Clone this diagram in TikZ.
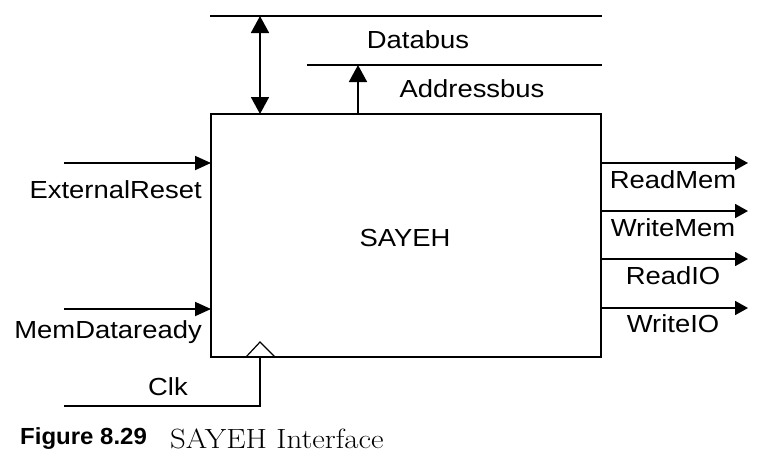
\documentclass[tikz,border=0pt]{standalone}
\usepackage{fontspec}
\newfontfamily\arial[FakeStretch=1.11]{Liberation Sans}
\newfontfamily\arialb[FakeStretch=1.03]{Liberation Sans}
\newfontfamily\lmw[FakeStretch=1.11]{Latin Modern Roman}
\usetikzlibrary{arrows.meta}
\begin{document}
\begin{tikzpicture}[x=1pt,y=-1pt,
  wire/.style={line width=1.8pt},
  vtip/.tip={Triangle[length=17pt,width=18pt]},
  itip/.tip={Triangle[length=16pt,width=14pt]},
  otip/.tip={Triangle[length=13pt,width=14pt]},
  lbl/.style={font=\arial\fontsize{24.7}{28}\selectfont,inner sep=0pt},
]
\useasboundingbox (0,0) rectangle (762,464);
\node[draw,line width=1.8pt,minimum width=390pt,minimum height=243pt,inner sep=0pt] (sayeh) at (406,235.5) {};
\node[lbl] (t) at (405,238) {SAYEH};
% buses
\coordinate (db1) at (210,16); \coordinate (db2) at (602,16);
\coordinate (ab1) at (307,65); \coordinate (ab2) at (602,65);
\draw[wire] (db1) -- (db2);
\draw[wire] (ab1) -- (ab2);
\coordinate (dbt) at (260,16); \coordinate (dbb) at (260,114);
\draw[wire,vtip-vtip] (dbt) -- (dbb);
\coordinate (abb) at (358,114); \coordinate (abt) at (358,65);
\draw[wire,-vtip] (abb) -- (abt);
\node[lbl] (dbl) at (418,40) {Databus};
\node[lbl] (abl) at (472,89) {Addressbus};
% inputs
\coordinate (er) at (64,163); \coordinate (ere) at (211,163);
\draw[wire,-itip] (er) -- (ere);
\node[lbl,anchor=east] (erl) at (202,190) {ExternalReset};
\coordinate (md) at (64,309); \coordinate (mde) at (211,309);
\draw[wire,-itip] (md) -- (mde);
\node[lbl,anchor=east] (mdl) at (202,332) {MemDataready};
% clock
\coordinate (c1) at (246,357); \coordinate (c2) at (260,342); \coordinate (c3) at (275,357);
\draw[line width=1.2pt] (c1) -- (c2) -- (c3);
\coordinate (cl0) at (64,406); \coordinate (cl1) at (260,406); \coordinate (cl2) at (260,357);
\draw[wire] (cl0) -- (cl1) -- (cl2);
\node[lbl] (clk) at (168,387) {Clk};
% outputs
\foreach \y/\n/\ty in {163/ReadMem/180,211/WriteMem/228,259/ReadIO/276,308/WriteIO/324}{
  \coordinate (o\n a) at (601,\y); \coordinate (o\n b) at (748,\y);
  \draw[wire,-otip] (o\n a) -- (o\n b);
  \node[lbl] (l\n) at (673,\ty) {\n};
}
% caption
\node[font=\arialb\bfseries\fontsize{23.3}{27}\selectfont,anchor=west,inner sep=0pt] (fig) at (20,439) {Figure 8.29};
\node[font=\lmw\fontsize{27.8}{32}\selectfont,anchor=west,inner sep=0pt] (cap) at (170,439) {SAYEH Interface};
\end{tikzpicture}
\end{document}
